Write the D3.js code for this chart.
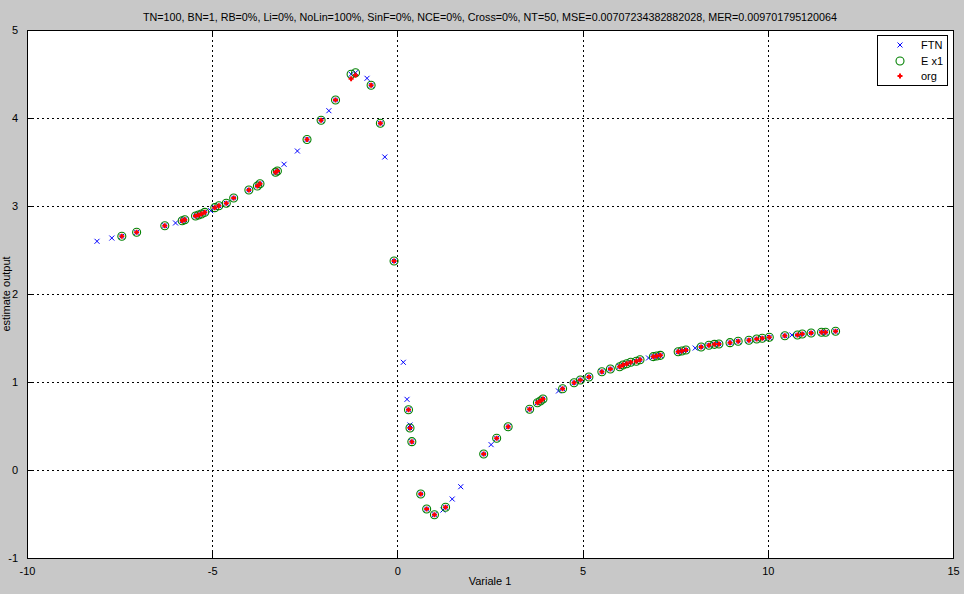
<!DOCTYPE html>
<html><head><meta charset="utf-8">
<script src="https://cdn.jsdelivr.net/npm/d3@7"></script>
<style>body{margin:0;background:#c8c8c8;} svg{display:block;font-family:"Liberation Sans",Arial,sans-serif;}</style>
</head><body>
<svg id="c" width="964" height="594"></svg>
<script>
const titleText = "TN=100, BN=1, RB=0%, Li=0%, NoLin=100%, SinF=0%, NCE=0%, Cross=0%, NT=50, MSE=0.00707234382882028, MER=0.009701795120064";
const xLabel = "Variale 1";
const yLabel = "estimate output";
const xTicks = [-10, -5, 0, 5, 10, 15];
const yTicks = [-1, 0, 1, 2, 3, 4, 5];
const legendLabels = ["FTN", "E x1", "org"];

// test points: input, estimate (E x1), original (org)
const testX = [-7.44,-7.04,-6.28,-5.81,-5.74,-5.45,-5.37,-5.29,-5.20,-4.93,-4.82,-4.62,-4.42,-4.01,-3.78,-3.71,-3.29,-3.24,-2.44,-2.06,-1.67,-1.25,-1.13,-0.71,-0.46,-0.09,
  0.30,0.34,0.39,0.63,0.79,1.00,1.30,2.33,2.68,2.99,3.57,3.78,3.86,3.93,4.46,4.77,4.94,5.17,5.52,5.75,6.00,6.09,6.19,6.30,6.45,6.55,6.91,7.00,7.10,7.58,7.68,7.79,8.20,8.41,8.56,8.68,8.98,9.20,9.49,9.70,9.85,10.04,10.46,10.80,10.93,11.17,11.45,11.56,11.83];
const estY = [2.656,2.701,2.776,2.833,2.844,2.886,2.898,2.909,2.928,2.981,3.003,3.031,3.091,3.182,3.227,3.253,3.383,3.398,3.756,3.974,4.205,4.497,4.515,4.372,3.940,2.375,
  0.685,0.477,0.322,-0.273,-0.443,-0.508,-0.424,0.182,0.360,0.492,0.690,0.765,0.784,0.807,0.924,0.992,1.023,1.057,1.117,1.148,1.174,1.193,1.208,1.224,1.235,1.253,1.288,1.295,1.303,1.344,1.352,1.364,1.398,1.417,1.428,1.432,1.447,1.463,1.474,1.489,1.497,1.508,1.526,1.534,1.545,1.557,1.565,1.565,1.576];
const orgY = [2.656,2.701,2.776,2.833,2.844,2.886,2.898,2.909,2.928,2.981,3.003,3.031,3.091,3.182,3.227,3.253,3.383,3.398,3.756,3.974,4.205,4.447,4.485,4.372,3.940,2.375,
  0.685,0.477,0.322,-0.273,-0.443,-0.508,-0.424,0.182,0.360,0.492,0.690,0.765,0.784,0.807,0.924,0.992,1.023,1.057,1.117,1.148,1.174,1.193,1.208,1.224,1.235,1.253,1.288,1.295,1.303,1.344,1.352,1.364,1.398,1.417,1.428,1.432,1.447,1.463,1.474,1.489,1.497,1.508,1.526,1.534,1.545,1.557,1.565,1.565,1.576];
// FTN points not covered by test markers
const ftnOnlyX = [-8.11,-7.71,-5.99,-5.04,-3.06,-2.70,-1.85,-0.82,-0.34,0.16,0.26,0.34,1.23,1.48,1.71,2.53,4.35,6.78,8.04,10.65];
const ftnOnlyY = [2.599,2.636,2.807,2.947,3.474,3.625,4.083,4.451,3.557,1.224,0.803,0.511,-0.455,-0.330,-0.190,0.288,0.898,1.273,1.386,1.534];

const svg = d3.select("#c");
const L = 27, R = 953, T = 30, B = 558;
const x = d3.scaleLinear().domain([-10, 15]).range([L, R]);
const y = d3.scaleLinear().domain([-1, 5]).range([B, T]);

svg.append("rect").attr("width", 964).attr("height", 594).attr("fill", "#c8c8c8");
svg.append("rect").attr("x", L).attr("y", T).attr("width", R - L).attr("height", B - T).attr("fill", "#fff");

// grid
const g = svg.append("g").attr("shape-rendering", "crispEdges");
g.selectAll(".vg").data(xTicks.slice(1, -1)).enter().append("line")
  .attr("x1", d => Math.round(x(d)) + 0.5).attr("x2", d => Math.round(x(d)) + 0.5)
  .attr("y1", T).attr("y2", B).attr("stroke", "#000").attr("stroke-dasharray", "2,3");
g.selectAll(".hg").data(yTicks.slice(1, -1)).enter().append("line")
  .attr("y1", d => Math.round(y(d)) + 0.5).attr("y2", d => Math.round(y(d)) + 0.5)
  .attr("x1", L).attr("x2", R).attr("stroke", "#000").attr("stroke-dasharray", "2,3");

// axes
const fmt = d => String(d);
const xb = svg.append("g").attr("transform", `translate(0,${B})`)
  .call(d3.axisBottom(x).tickValues(xTicks).tickSize(-6).tickPadding(9).tickFormat(fmt));
const xt = svg.append("g").attr("transform", `translate(0,${T})`)
  .call(d3.axisTop(x).tickValues(xTicks).tickSize(-6).tickFormat(""));
const yl = svg.append("g").attr("transform", `translate(${L},0)`)
  .call(d3.axisLeft(y).tickValues(yTicks).tickSize(-6).tickPadding(9).tickFormat(fmt));
const yr = svg.append("g").attr("transform", `translate(${R},0)`)
  .call(d3.axisRight(y).tickValues(yTicks).tickSize(-6).tickFormat(""));
[xb, xt, yl, yr].forEach(a => {
  a.select(".domain").remove();
  a.selectAll("line").attr("stroke", "#000").attr("shape-rendering", "crispEdges");
  a.selectAll("text").attr("font-size", "11px").attr("fill", "#000").attr("font-family", "Liberation Sans, Arial, sans-serif");
});
svg.append("rect").attr("x", L + 0.5).attr("y", T + 0.5).attr("width", R - L).attr("height", B - T)
  .attr("fill", "none").attr("stroke", "#000").attr("shape-rendering", "crispEdges");

// markers
const plot = svg.append("g");
const ftnPts = ftnOnlyX.map((v, i) => [v, ftnOnlyY[i]]).concat(testX.map((v, i) => [v, estY[i]]));
const cross = (sel, s) => sel.append("path").attr("d", `M${-s},${-s}L${s},${s}M${-s},${s}L${s},${-s}`);
ftnPts.forEach(p => {
  const gg = plot.append("g").attr("transform", `translate(${x(p[0])},${y(p[1])})`);
  cross(gg, 2.5).attr("stroke", "#0000ff").attr("stroke-width", 1).attr("fill", "none");
});
plot.selectAll(".e").data(testX).enter().append("circle")
  .attr("cx", d => x(d)).attr("cy", (d, i) => y(estY[i])).attr("r", 4)
  .attr("fill", "none").attr("stroke", "#008000").attr("stroke-width", 1.1);
plot.selectAll(".o").data(testX).enter().append("path")
  .attr("transform", (d, i) => `translate(${x(d)},${y(orgY[i])})`)
  .attr("d", "M-2.5,0L2.5,0M0,-2.5L0,2.5").attr("stroke", "#ff0000").attr("stroke-width", 2);

// title & labels
svg.append("text").attr("x", 490).attr("y", 21).attr("text-anchor", "middle").attr("font-size", "11px")
  .attr("textLength", 694).attr("lengthAdjust", "spacingAndGlyphs").text(titleText);
svg.append("text").attr("x", 490).attr("y", 585).attr("text-anchor", "middle").attr("font-size", "11px").text(xLabel);
svg.append("text").attr("transform", "translate(10,294) rotate(-90)").attr("text-anchor", "middle").attr("font-size", "11px").text(yLabel);

// legend
const lg = svg.append("g");
lg.append("rect").attr("x", 877.5).attr("y", 35.5).attr("width", 70).attr("height", 50)
  .attr("fill", "#fff").attr("stroke", "#000").attr("shape-rendering", "crispEdges");
const rows = [45, 61, 76];
legendLabels.forEach((lab, i) => {
  const gg = lg.append("g").attr("transform", `translate(900,${rows[i]})`);
  if (i === 0) cross(gg, 2.5).attr("stroke", "#0000ff").attr("fill", "none");
  if (i === 1) gg.append("circle").attr("r", 4).attr("fill", "none").attr("stroke", "#008000").attr("stroke-width", 1.1);
  if (i === 2) gg.append("path").attr("d", "M-2.5,0L2.5,0M0,-2.5L0,2.5").attr("stroke", "#ff0000").attr("stroke-width", 2);
  lg.append("text").attr("x", 921).attr("y", rows[i] + 4).attr("font-size", "11px").text(lab);
});
</script>
</body></html>
